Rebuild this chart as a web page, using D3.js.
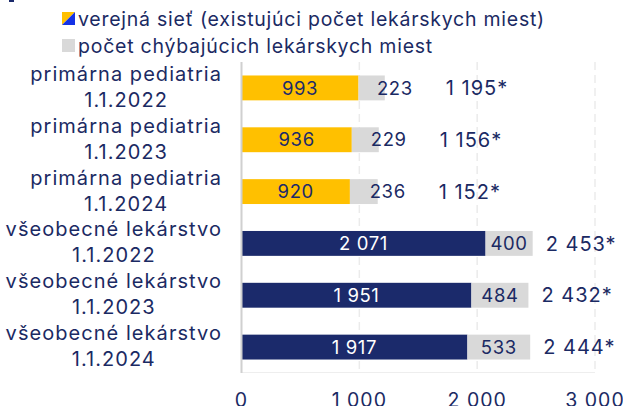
<!DOCTYPE html>
<html>
<head>
<meta charset="utf-8">
<style>
  body { margin: 0; background: #fff; }
  svg text { font-family: "Inter", "Roboto", sans-serif; fill: #1b2a63; }
</style>
</head>
<body>
<div id="chart"></div>
<script src="https://cdn.jsdelivr.net/npm/d3@7"></script>
<script>
// data
var categories = [
  ["primárna pediatria", "1.1.2022"],
  ["primárna pediatria", "1.1.2023"],
  ["primárna pediatria", "1.1.2024"],
  ["všeobecné lekárstvo", "1.1.2022"],
  ["všeobecné lekárstvo", "1.1.2023"],
  ["všeobecné lekárstvo", "1.1.2024"]
];
var existing = [993, 936, 920, 2071, 1951, 1917];
var missing = [223, 229, 236, 400, 484, 533];
var totals = ["1 195*", "1 156*", "1 152*", "2 453*", "2 432*", "2 444*"];
var ticks = [0, 1000, 2000, 3000];
var legendLabels = ["verejná sieť (existujúci počet lekárskych miest)", "počet chýbajúcich lekárskych miest"];

var width = 623, height = 406;
var navy = "#1b2a6b", yellow = "#ffc000", grey = "#d9d9d9";

var svg = d3.select("#chart").append("svg")
  .attr("width", width)
  .attr("height", height);

var x = d3.scaleLinear().domain([0, 3000]).range([241.5, 595]);
var y = d3.scaleBand().domain(d3.range(categories.length)).range([62, 373]).paddingInner(0.52).paddingOuter(0.26);

var fmt = function(v) { return d3.format(",")(v).replace(/,/g, " "); };

// top-left fragment
svg.append("rect").attr("x", 9).attr("y", 0).attr("width", 5).attr("height", 2).attr("fill", navy);

// gridlines
svg.selectAll(".grid")
  .data(ticks.slice(1))
  .enter().append("line")
  .attr("x1", function(d) { return x(d); })
  .attr("x2", function(d) { return x(d); })
  .attr("y1", 62).attr("y2", 372)
  .attr("stroke", "#ebebeb")
  .attr("stroke-width", 1.5)
  .attr("stroke-dasharray", "8,5");

svg.append("line")
  .attr("x1", x(0)).attr("x2", x(3000))
  .attr("y1", 372.5).attr("y2", 372.5)
  .attr("stroke", "#eeeeee");

var row = svg.selectAll(".row")
  .data(categories)
  .enter().append("g")
  .attr("class", "row");

// existing
row.append("rect")
  .attr("x", x(0))
  .attr("y", function(d, i) { return y(i); })
  .attr("width", function(d, i) { return x(existing[i]) - x(0); })
  .attr("height", y.bandwidth())
  .attr("fill", function(d, i) { return i < 3 ? yellow : navy; });

// missing
row.append("rect")
  .attr("x", function(d, i) { return x(existing[i]); })
  .attr("y", function(d, i) { return y(i); })
  .attr("width", function(d, i) { return x(existing[i] + missing[i]) - x(existing[i]); })
  .attr("height", y.bandwidth())
  .attr("fill", grey);

var cy = function(i) { return y(i) + y.bandwidth() / 2; };

row.append("text")
  .attr("x", function(d, i) { return (x(0) + x(existing[i])) / 2; })
  .attr("y", function(d, i) { return cy(i); })
  .attr("dy", "0.36em")
  .attr("text-anchor", "middle")
  .style("font-size", "18.5px")
  .style("letter-spacing", "0.6px")
  .style("fill", function(d, i) { return i < 3 ? navy : "#fff"; })
  .text(function(d, i) { return fmt(existing[i]); });

row.append("text")
  .attr("x", function(d, i) {
    var a = x(existing[i]), b = x(existing[i] + missing[i]);
    return (b - a) < 40 ? b + 10 : (a + b) / 2;
  })
  .attr("y", function(d, i) { return cy(i); })
  .attr("dy", "0.36em")
  .attr("text-anchor", "middle")
  .style("font-size", "18.5px")
  .style("letter-spacing", "0.6px")
  .text(function(d, i) { return fmt(missing[i]); });

row.append("text")
  .attr("x", function(d, i) { return x(existing[i] + missing[i]) + (i < 3 ? 61 : 13); })
  .attr("y", function(d, i) { return cy(i); })
  .attr("dy", "0.36em")
  .style("font-size", "20px")
  .style("letter-spacing", "1px")
  .text(function(d, i) { return totals[i]; });

// category labels: block right-aligned at 222, lines centred within block
var lab = row.append("text")
  .attr("text-anchor", "middle")
  .style("font-size", "20px")
  .style("letter-spacing", "1.05px");
lab.append("tspan")
  .attr("y", function(d, i) { return cy(i) - 7; })
  .text(function(d) { return d[0]; });
lab.append("tspan")
  .attr("y", function(d, i) { return cy(i) + 19; })
  .text(function(d) { return d[1]; });
lab.each(function() {
  var t = d3.select(this);
  var w = d3.max(t.selectAll("tspan").nodes(), function(n) { return n.getComputedTextLength(); });
  t.selectAll("tspan").attr("x", 222 - w / 2);
});

// axis
svg.append("line")
  .attr("x1", x(0)).attr("x2", x(0))
  .attr("y1", 62).attr("y2", 373)
  .attr("stroke", "#d0d0d0")
  .attr("stroke-width", 2);

svg.selectAll(".tick")
  .data(ticks)
  .enter().append("text")
  .attr("x", function(d) { return x(d); })
  .attr("y", 407)
  .attr("text-anchor", "middle")
  .style("font-size", "19.5px")
  .style("letter-spacing", "1px")
  .text(function(d) { return fmt(d); });

// legend
var leg = svg.append("g");
var sq = leg.append("g").attr("transform", "translate(62,12)");
sq.append("path").attr("d", "M0,0H13L0,13Z").attr("fill", yellow);
sq.append("path").attr("d", "M13,0V13H0Z").attr("fill", "#1432e6");
leg.append("rect").attr("x", 62).attr("y", 39).attr("width", 13).attr("height", 13).attr("fill", grey);

leg.selectAll(".lt")
  .data(legendLabels)
  .enter().append("text")
  .attr("x", 78)
  .attr("y", function(d, i) { return 26 + i * 27; })
  .style("font-size", "19.5px")
  .style("letter-spacing", "0.75px")
  .text(function(d) { return d; });
</script>
</body>
</html>
